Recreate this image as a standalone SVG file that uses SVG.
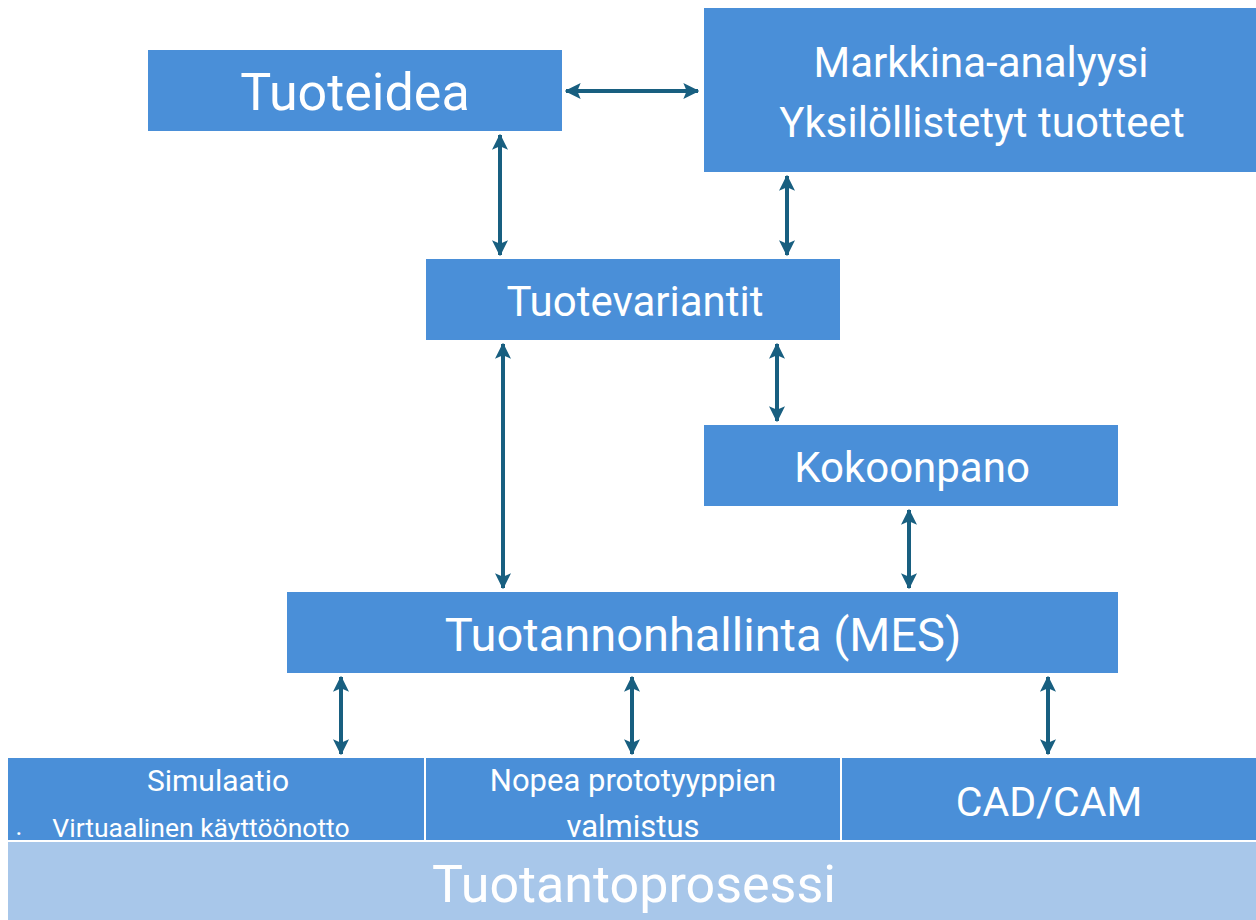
<svg xmlns="http://www.w3.org/2000/svg" width="1256" height="920" viewBox="0 0 1256 920">
<defs>
<style>
.box{fill:#4a8fd8;}
.light{fill:#a8c7ea;}
.t{fill:#ffffff;font-family:Roboto,"Noto Sans",sans-serif;text-anchor:middle;dominant-baseline:central;}
.c{stroke:#185f80;stroke-width:4;fill:none;marker-start:url(#a);marker-end:url(#a);}
</style>
<marker id="a" viewBox="0 0 12 12" refX="11" refY="6" markerWidth="4" markerHeight="4" orient="auto-start-reverse" markerUnits="strokeWidth">
<path d="M0,0 L12,6 L0,12 L2.5,6 Z" fill="#185f80"/>
</marker>
</defs>
<rect width="1256" height="920" fill="#ffffff"/>
<g id="tuoteidea"><rect class="box" x="148" y="50" width="414" height="81"/><text class="t" x="355" y="92" font-size="52">Tuoteidea</text></g>
<g id="markkina"><rect class="box" x="704" y="8" width="552" height="164"/><text class="t" x="981" y="62" font-size="42">Markkina-analyysi</text><text class="t" x="982" y="122" font-size="42">Yksilöllistetyt tuotteet</text></g>
<g id="tuotevariantit"><rect class="box" x="426" y="259" width="414" height="81"/><text class="t" x="635" y="301" font-size="42">Tuotevariantit</text></g>
<g id="kokoonpano"><rect class="box" x="704" y="425" width="414" height="81"/><text class="t" x="912" y="467" font-size="42">Kokoonpano</text></g>
<g id="mes"><rect class="box" x="287" y="592" width="831" height="81"/><text class="t" x="703" y="634" font-size="47">Tuotannonhallinta (MES)</text></g>
<g id="simulaatio"><rect class="box" x="8" y="758" width="416" height="82"/><text class="t" x="218" y="780" font-size="30">Simulaatio</text><text class="t" x="19" y="826" font-size="26">.</text><text class="t" x="201" y="827" font-size="26.5">Virtuaalinen käyttöönotto</text></g>
<g id="nopea"><rect class="box" x="426" y="758" width="414" height="82"/><text class="t" x="633" y="780" font-size="31">Nopea prototyyppien</text><text class="t" x="633" y="826" font-size="31">valmistus</text></g>
<g id="cadcam"><rect class="box" x="842" y="758" width="414" height="82"/><text class="t" x="1049" y="802" font-size="41">CAD/CAM</text></g>
<g id="tuotantoprosessi"><rect class="light" x="8" y="842" width="1248" height="78"/><text class="t" x="634" y="884" font-size="52">Tuotantoprosessi</text></g>
<g id="connectors">
<line class="c" x1="566" y1="91" x2="698" y2="91"/>
<line class="c" x1="500" y1="135" x2="500" y2="255"/>
<line class="c" x1="787" y1="176" x2="787" y2="255"/>
<line class="c" x1="503" y1="344" x2="503" y2="588"/>
<line class="c" x1="777" y1="344" x2="777" y2="421"/>
<line class="c" x1="909" y1="510" x2="909" y2="588"/>
<line class="c" x1="341" y1="677" x2="341" y2="754"/>
<line class="c" x1="632" y1="677" x2="632" y2="754"/>
<line class="c" x1="1048" y1="677" x2="1048" y2="754"/>
</g>
</svg>
